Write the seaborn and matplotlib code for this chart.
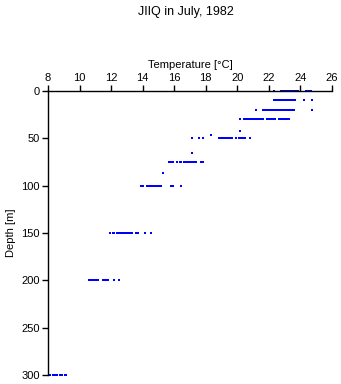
import matplotlib
matplotlib.use("Agg")
import matplotlib.pyplot as plt
import seaborn as sns
import pandas as pd

# Temperature readings (deg C) at each sampled depth (m)
t_0 = [22.35, 22.75, 22.85, 22.95, 23.05, 23.15, 23.25, 23.35, 23.45, 23.55,
       23.65, 23.75, 23.85, 24.35, 24.45, 24.6, 24.68]
t_10 = [22.35, 22.45, 22.55, 22.65, 22.75, 22.85, 22.95, 23.05, 23.15, 23.25,
        23.35, 23.45, 23.55, 23.65, 24.2, 24.75]
t_20 = [21.2, 21.6, 21.7, 21.8, 21.9, 22.0, 22.1, 22.2, 22.3, 22.4, 22.5, 22.6,
        22.7, 22.8, 22.9, 23.0, 23.1, 23.2, 23.3, 23.4, 23.5, 23.6, 24.75]
t_30 = [20.2, 20.4, 20.5, 20.6, 20.7, 20.8, 20.9, 21.0, 21.1, 21.2, 21.3, 21.4,
        21.5, 21.6, 21.85, 21.95, 22.05, 22.15, 22.25, 22.4, 22.65, 22.75, 22.85,
        22.95, 23.05, 23.15, 23.25]
t_42 = [20.15]
t_46 = [18.35]
t_50 = [17.15, 17.6, 17.85, 18.85, 18.95, 19.05, 19.15, 19.25, 19.35, 19.45,
        19.55, 19.65, 19.9, 20.1, 20.2, 20.3, 20.4, 20.5, 20.8]
t_65 = [17.15]
t_75 = [15.65, 15.75, 15.85, 15.95, 16.2, 16.35, 16.45, 16.65, 16.75, 16.85,
        16.95, 17.05, 17.15, 17.25, 17.4, 17.7, 17.85]
t_87 = [15.3]
t_100 = [13.9, 14.0, 14.3, 14.4, 14.5, 14.6, 14.7, 14.8, 14.9, 15.0, 15.1, 15.15,
         15.8, 15.95, 16.45]
t_150 = [11.95, 12.1, 12.2, 12.4, 12.5, 12.6, 12.7, 12.8, 12.9, 13.0, 13.1, 13.2,
         13.3, 13.55, 13.7, 14.15, 14.55]
t_200 = [10.6, 10.7, 10.8, 10.9, 11.0, 11.1, 11.2, 11.5, 11.6, 11.7, 11.8, 12.2, 12.5]
t_300 = [8.15, 8.3, 8.45, 8.6, 8.75, 8.9, 9.05, 9.15]

depths = [0, 10, 20, 30, 42, 46, 50, 65, 75, 87, 100, 150, 200, 300]
temps = [t_0, t_10, t_20, t_30, t_42, t_46, t_50, t_65, t_75, t_87, t_100,
         t_150, t_200, t_300]

x_ticks = [8, 10, 12, 14, 16, 18, 20, 22, 24, 26]
y_ticks = [0, 50, 100, 150, 200, 250, 300]

rows = []
for d, ts in zip(depths, temps):
    for t in ts:
        rows.append({"Temperature": t, "Depth": d})
df = pd.DataFrame(rows)

sns.set_theme(style="white")
plt.rcParams['font.family'] = ['Liberation Sans', 'DejaVu Sans']
plt.rcParams['text.color'] = 'black'
plt.rcParams['axes.labelcolor'] = 'black'
plt.rcParams['xtick.color'] = 'black'
plt.rcParams['ytick.color'] = 'black'

fig = plt.figure(figsize=(3.41, 3.84), dpi=100)
ax = fig.add_axes([48 / 341, 1 - 375 / 384, 284 / 341, 284 / 384])

sns.scatterplot(data=df, x="Temperature", y="Depth", ax=ax, color="#0000FF",
                marker="s", s=4.5, linewidth=0, clip_on=False)

ax.set_xlim(8, 26)
ax.set_ylim(300, 0)
ax.xaxis.tick_top()
ax.xaxis.set_label_position("top")
ax.set_xticks(x_ticks)
ax.set_yticks(y_ticks)
ax.set_xticklabels([str(v) for v in x_ticks])
ax.set_yticklabels([str(v) for v in y_ticks])
ax.set_xlabel("Temperature [\u00b0C]", fontsize=8, labelpad=3, color="black")
ax.set_ylabel("Depth [m]", fontsize=8, labelpad=4, color="black")
ax.tick_params(axis="both", labelsize=8, length=4, width=1, color="black",
               labelcolor="black", direction="out", pad=2)
ax.tick_params(axis="x", top=True, bottom=False)
ax.tick_params(axis="y", left=True, right=False)
for side in ["right", "bottom"]:
    ax.spines[side].set_visible(False)
for side in ["top", "left"]:
    ax.spines[side].set_color("black")
    ax.spines[side].set_linewidth(1)
ax.grid(False)

fig.text(186 / 341, 1 - 12 / 384, "JIIQ in July, 1982", ha="center", va="center",
         fontsize=9, color="black")

fig.savefig("out.png", dpi=100)
